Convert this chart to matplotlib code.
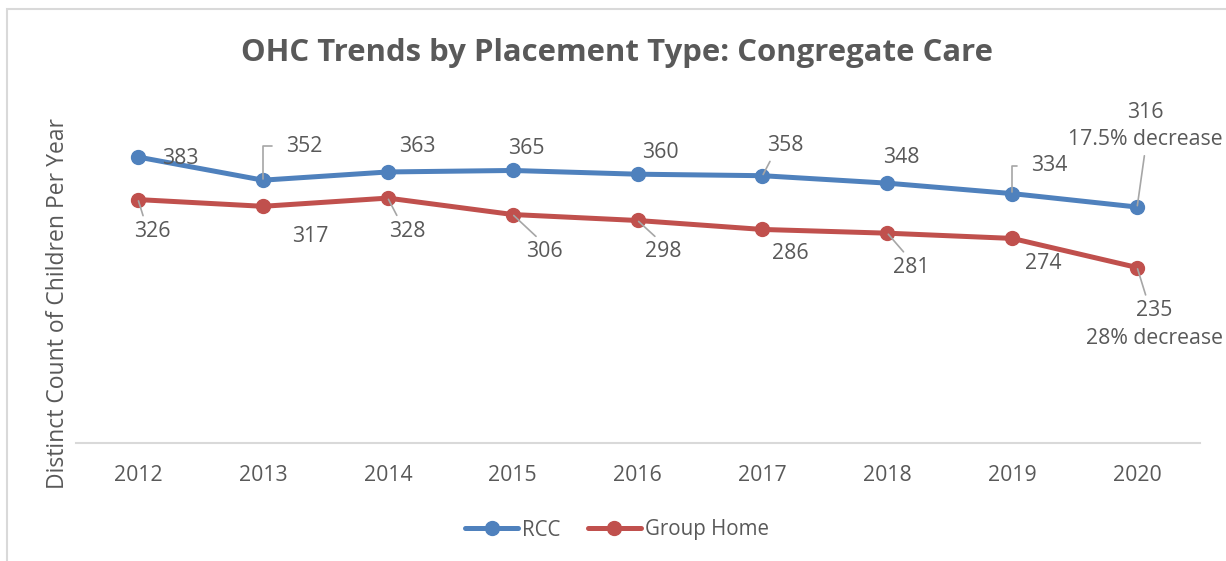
import matplotlib.pyplot as plt
from matplotlib.patches import Rectangle

years = ["2012", "2013", "2014", "2015", "2016", "2017", "2018", "2019", "2020"]
rcc = [383, 352, 363, 365, 360, 358, 348, 334, 316]
group_home = [326, 317, 328, 306, 298, 286, 281, 274, 235]
rcc_labels = ["383", "352", "363", "365", "360", "358", "348", "334", "316\n17.5% decrease"]
gh_labels = ["326", "317", "328", "306", "298", "286", "281", "274", "235\n28% decrease"]

plt.rcParams['font.family'] = ['Open Sans', 'DejaVu Sans']
grey = '#595959'
blue = '#4F81BD'
red = '#C0504D'

fig = plt.figure(figsize=(12.26, 5.61), dpi=100)
ax = fig.add_axes([75.6/1226, 1-443/561, 1124/1226, 336/561])

x = list(range(len(years)))
ax.plot(x, rcc, color=blue, lw=3.6, marker='o', ms=10, label='RCC', solid_capstyle='round')
ax.plot(x, group_home, color=red, lw=3.6, marker='o', ms=10, label='Group Home', solid_capstyle='round')

ax.set_xlim(-0.5, len(years) - 0.5)
ax.set_ylim(0, 450)
ax.set_xticks(x)
ax.set_xticklabels(years)
ax.set_yticks([])
ax.tick_params(axis='x', length=0, pad=16, labelsize=15.3, labelcolor=grey)
for s in ['top', 'right', 'left']:
    ax.spines[s].set_visible(False)
ax.spines['bottom'].set_color('#D9D9D9')
ax.spines['bottom'].set_linewidth(1.5)

ax.set_ylabel("Distinct Count of Children Per Year", fontsize=16.5, color=grey)
ax.yaxis.set_label_coords(-0.005, 0.414)

fig.text(617/1226, 1-53/561, "OHC Trends by Placement Type: Congregate Care",
         ha='center', va='center', fontsize=22.4, fontweight='bold', color=grey)

# label offsets in pixels and leader styles
rcc_off = [(42, -1), (41, 34), (29, 25), (14, 22), (23, 22), (23, 30), (14, 26), (37, 28), (8, 81)]
rcc_lead = [None, 'elbow', None, None, None, (0.15, 0.0), None, 'elbow', (0.5, 0.0)]
gh_off = [(14, -32), (47, -30), (19, -33), (32, -37), (26, -31), (28, -24), (24, -34), (31, -25), (17, -57)]
gh_lead = [(0.3, 1.0), None, (0.3, 1.0), (0.4, 1.0), (0.4, 1.0), None, (0.4, 1.0), None, (0.45, 1.0)]

def label(xi, yi, txt, off, lead):
    kw = dict(textcoords='offset pixels', ha='center', va='center',
              fontsize=15.3, color=grey, linespacing=1.4)
    if lead == 'elbow':
        kw['arrowprops'] = dict(arrowstyle='-', color='#A6A6A6', lw=1.2, relpos=(0, 0.5),
                                connectionstyle='angle,angleA=0,angleB=90,rad=0',
                                shrinkA=8, shrinkB=1)
    elif lead is not None:
        kw['arrowprops'] = dict(arrowstyle='-', color='#A6A6A6', lw=1.2, relpos=lead,
                                shrinkA=2, shrinkB=1)
    ax.annotate(txt, (xi, yi), xytext=off, **kw)

for i in x:
    label(i, rcc[i], rcc_labels[i], rcc_off[i], rcc_lead[i])
    label(i, group_home[i], gh_labels[i], gh_off[i], gh_lead[i])

leg = fig.legend(loc='center', bbox_to_anchor=(617/1226, 1-530/561), ncol=2, frameon=False,
                 fontsize=14.8, handlelength=2.6, handletextpad=0.2, columnspacing=1.3)
for t in leg.get_texts():
    t.set_color(grey)

fig.patches.append(Rectangle((7/1226, -0.1), 1.2, (561-9)/561 + 0.1, transform=fig.transFigure,
                             fill=False, ec='#D9D9D9', lw=1.5))

fig.savefig("out.png", dpi=100)
